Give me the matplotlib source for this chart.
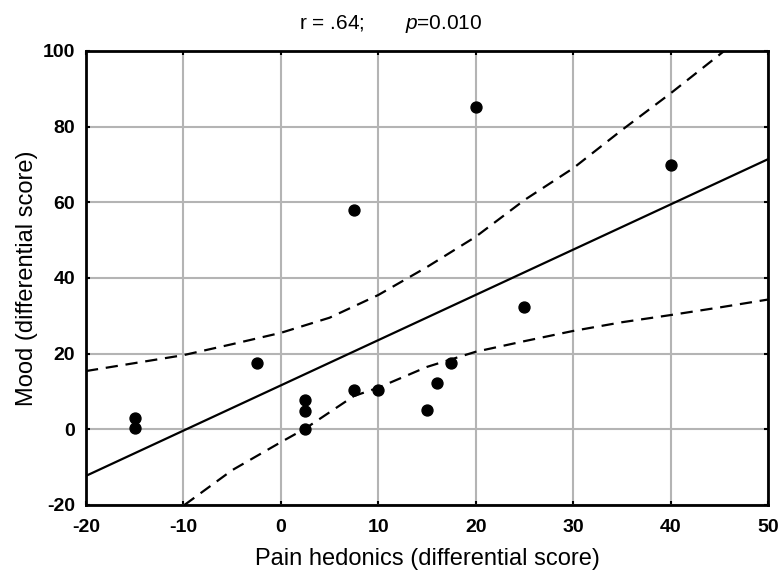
import matplotlib.pyplot as plt
import numpy as np

# Scatter data (pain hedonics vs mood, differential scores)
pain = [-15, -15, -2.5, 2.5, 2.5, 2.5, 7.5, 7.5, 10, 15, 16, 17.5, 20, 25, 40]
mood = [3, 0.3, 17.6, 7.7, 4.8, 0.2, 58, 10.3, 10.3, 5.0, 12.2, 17.6, 85.3, 32.4, 69.8]

# Regression line end points
fit_x = [-20, 50]
fit_y = [-12.3, 71.4]

# 95% confidence band
upper_x = [-20, -15, -10, -5, 0, 5, 10, 15, 20, 25, 30, 35, 40, 45.5]
upper_y = [15.4, 17.5, 19.6, 22.5, 25.5, 29.5, 35.5, 42.9, 50.9, 60.6, 69.0, 79.1, 88.8, 100]
lower_x = [-9.9, -5, 0, 2.5, 5, 7.5, 10, 15, 20, 25, 30, 35, 40, 45, 50]
lower_y = [-20, -10.8, -3.4, 0.2, 4.5, 8.8, 11.0, 16.5, 20.5, 23.3, 26.0, 28.3, 30.2, 32.2, 34.3]

xticks = [-20, -10, 0, 10, 20, 30, 40, 50]
yticks = [-20, 0, 20, 40, 60, 80, 100]

plt.rcParams['font.family'] = ['Liberation Sans', 'DejaVu Sans']
plt.rcParams['mathtext.fontset'] = 'custom'
plt.rcParams['mathtext.rm'] = 'Liberation Sans'
plt.rcParams['mathtext.it'] = 'Liberation Sans:italic'
plt.rcParams['axes.unicode_minus'] = False

fig = plt.figure(figsize=(7.79, 5.76), dpi=100)
ax = fig.add_axes([0.1104, 0.1233, 0.8755, 0.7882])

ax.grid(True, color='#b4b4b4', linewidth=1.5)
ax.set_axisbelow(True)

ax.plot(fit_x, fit_y, color='black', linewidth=1.6)
ax.plot(upper_x, upper_y, color='black', linewidth=1.6, dashes=(5.5, 3.5))
ax.plot(lower_x, lower_y, color='black', linewidth=1.6, dashes=(5.5, 3.5))
ax.scatter(pain, mood, s=62, color='black', zorder=3)

ax.set_xlim(-20, 50)
ax.set_ylim(-20, 100)
ax.set_xticks(xticks)
ax.set_yticks(yticks)

for side in ['left', 'right', 'top', 'bottom']:
    ax.spines[side].set_linewidth(2)
ax.tick_params(axis='both', labelsize=14, direction='in', length=3,
               color='black', width=1.5, top=True, right=True)
ax.tick_params(axis='x', pad=10)
ax.tick_params(axis='y', pad=8)
for lab in ax.get_xticklabels() + ax.get_yticklabels():
    lab.set_fontweight('bold')

ax.set_xlabel('Pain hedonics (differential score)', fontsize=17, labelpad=9)
ax.set_ylabel('Mood (differential score)', fontsize=17, labelpad=3)
fig.text(0.502, 0.958, r'r = .64;       $p$=0.010', fontsize=15,
         ha='center', va='center')

plt.savefig('out.png', dpi=100)
